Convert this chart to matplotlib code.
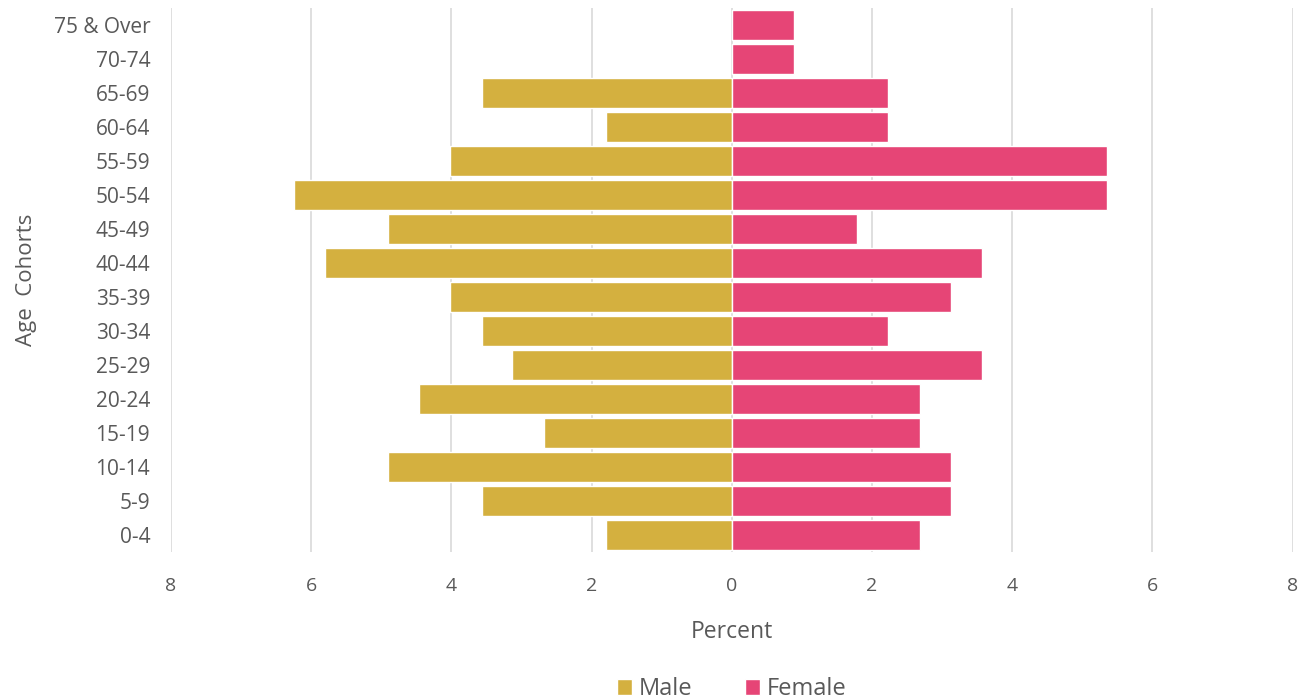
import matplotlib.pyplot as plt
import numpy as np

# Age pyramid data (percent of total)
age_groups = ['0-4', '5-9', '10-14', '15-19', '20-24', '25-29', '30-34', '35-39',
              '40-44', '45-49', '50-54', '55-59', '60-64', '65-69', '70-74', '75 & Over']
male = [1.79, 3.57, 4.91, 2.68, 4.46, 3.13, 3.57, 4.02,
        5.80, 4.91, 6.25, 4.02, 1.79, 3.57, 0.0, 0.0]
female = [2.68, 3.13, 3.13, 2.68, 2.68, 3.57, 2.23, 3.13,
          3.57, 1.79, 5.36, 5.36, 2.23, 2.23, 0.89, 0.89]
xticks = [-8, -6, -4, -2, 0, 2, 4, 6, 8]

male_color = '#D4B03F'
female_color = '#E64576'
text_color = '#595959'

plt.rcParams['font.family'] = ['Open Sans', 'DejaVu Sans']

fig = plt.figure(figsize=(13.14, 7), dpi=100)
ax = fig.add_axes([171 / 1314, 0.211, 1121.5 / 1314, 0.778])

y = np.arange(len(age_groups))
ax.barh(y, -np.array(male), height=0.88, color=male_color, edgecolor='white',
        linewidth=1, label='Male', zorder=3)
ax.barh(y, female, height=0.88, color=female_color, edgecolor='white',
        linewidth=1, label='Female', zorder=3)

ax.set_xlim(-8, 8)
ax.set_ylim(-0.5, 15.5)
ax.set_xticks(xticks, [str(abs(t)) for t in xticks])
ax.set_yticks(y, age_groups)
ax.tick_params(axis='y', length=0, labelsize=15, colors=text_color, pad=15)
ax.tick_params(axis='x', length=0, labelsize=14, colors=text_color, pad=18)
ax.grid(axis='x', color='#D9D9D9', linewidth=1.2, zorder=0)
for s in ax.spines.values():
    s.set_visible(False)

ax.set_xlabel('Percent', fontsize=16.5, color=text_color, labelpad=18)
ax.set_ylabel('Age  Cohorts', fontsize=16, color=text_color, labelpad=12)

ax.legend(loc='upper center', bbox_to_anchor=(0.5, -0.19), ncol=2, frameon=False,
          fontsize=17, labelcolor=text_color, handlelength=0.65, handleheight=0.65,
          handletextpad=0.3, columnspacing=2.2)

plt.savefig('out.png', dpi=100)
